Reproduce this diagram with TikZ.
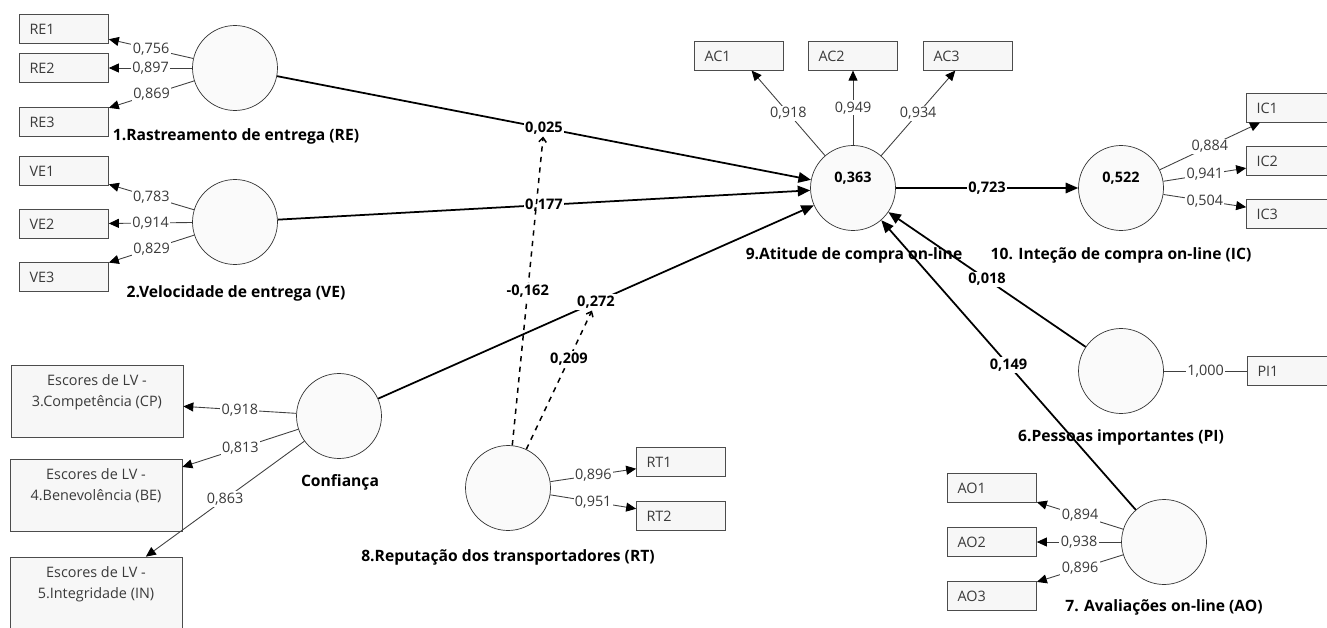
\documentclass[tikz,border=0pt]{standalone}
\usepackage{fontspec}
\setmainfont{Open Sans}
\usepackage{xcolor}
\usepackage{tikz}
\usetikzlibrary{arrows.meta}
\definecolor{plsgray}{HTML}{3A3A3A}
\definecolor{plsbox}{HTML}{F7F7F7}
\definecolor{plscirc}{HTML}{FAFAFA}

\begin{document}
\begin{tikzpicture}[x=0.02cm, y=-0.02cm,
  lv/.style={circle, draw=black!80, fill=plscirc, minimum size=1.7cm, inner sep=0pt},
  ind/.style={rectangle, draw=black!70, fill=plsbox, minimum height=0.57cm, text width=1.38cm, inner xsep=0.2cm, align=left, text=plsgray, font=\fontsize{8.2}{9.8}\selectfont},
  score/.style={rectangle, draw=black!70, fill=plsbox, minimum width=3.44cm, minimum height=1.44cm, align=center, text=plsgray, font=\fontsize{8.2}{11.9}\selectfont},
  lvname/.style={font=\bfseries\fontsize{8.9}{10.6}\selectfont},
  rsq/.style={font=\bfseries\fontsize{8.2}{9.8}\selectfont},
  loading/.style={draw=black!75, line width=0.5pt, -{Triangle[length=0.2cm, width=0.18cm, color=black]}},
  lw/.style={fill=white, inner sep=0.8pt, text=plsgray, font=\fontsize{8.2}{9.8}\selectfont},
  effect/.style={line width=1pt, -{Triangle[length=0.25cm, width=0.21cm]}},
  pw/.style={fill=white, inner sep=0.8pt, font=\bfseries\fontsize{8.3}{9.8}\selectfont},
  moder/.style={dashed, line width=0.85pt, -{Straight Barb[length=0.09cm, width=0.15cm]}}]
  \clip (0,0) rectangle (1327,628);

  \node[lv] (RE) at (235,68) {};
  \node[ind] (RE1) at (64,29) {RE1};
  \node[ind] (RE2) at (64,68) {RE2};
  \node[ind] (RE3) at (64,122) {RE3};
  \node[lvname] (REname) at (236,136) {1.Rastreamento de entrega (RE)};

  \node[lv] (VE) at (235,222) {};
  \node[ind] (VE1) at (64,171) {VE1};
  \node[ind] (VE2) at (64,224) {VE2};
  \node[ind] (VE3) at (64,277) {VE3};
  \node[lvname] (VEname) at (236,293) {2.Velocidade de entrega (VE)};

  \node[lv] (CF) at (339,416) {};
  \node[score] (CP) at (97,401) {Escores de LV -\\3.Competência (CP)\\\mbox{}};
  \node[score] (BE) at (96,495) {Escores de LV -\\4.Benevolência (BE)\\\mbox{}};
  \node[score] (IN) at (96,593) {Escores de LV -\\5.Integridade (IN)\\\mbox{}};
  \node[lvname] (CFname) at (340,482) {Confiança};

  \node[lv] (RT) at (508,488) {};
  \node[ind] (RT1) at (681,462) {RT1};
  \node[ind] (RT2) at (681,516) {RT2};
  \node[lvname] (RTname) at (508,557) {8.Reputação dos transportadores (RT)};

  \node[lv] (AC) at (853,188) {};
  \node[rsq] (ACr2) at (853,178) {0,363};
  \node[ind] (AC1) at (739,56) {AC1};
  \node[ind] (AC2) at (853,56) {AC2};
  \node[ind] (AC3) at (968,56) {AC3};
  \node[lvname] (ACname) at (854,255) {9.Atitude de compra on-line};

  \node[lv] (IC) at (1121,188) {};
  \node[rsq] (ICr2) at (1121,178) {0,522};
  \node[ind] (IC1) at (1291,108) {IC1};
  \node[ind] (IC2) at (1291,161) {IC2};
  \node[ind] (IC3) at (1291,214) {IC3};
  \node[lvname] (ICname) at (1121,255) {10. Inteção de compra on-line (IC)};

  \node[lv] (PI) at (1121,371) {};
  \node[ind] (PI1) at (1292,371) {PI1};
  \node[lvname] (PIname) at (1121,437) {6.Pessoas importantes (PI)};

  \node[lv] (AO) at (1164,542) {};
  \node[ind] (AO1) at (992,488) {AO1};
  \node[ind] (AO2) at (992,542) {AO2};
  \node[ind] (AO3) at (992,596) {AO3};
  \node[lvname] (AOname) at (1164,607) {7. Avaliações on-line (AO)};

  \draw[loading] (RE) -- node[lw] {0,756} (RE1);
  \draw[loading] (RE) -- node[lw] {0,897} (RE2);
  \draw[loading] (RE) -- node[lw] {0,869} (RE3);
  \draw[loading] (VE) -- node[lw] {0,783} (VE1);
  \draw[loading] (VE) -- node[lw] {0,914} (VE2);
  \draw[loading] (VE) -- node[lw] {0,829} (VE3);
  \draw[loading] (CF) -- node[lw] {0,918} (CP);
  \draw[loading] (CF) -- node[lw] {0,813} (BE);
  \draw[loading] (CF) -- node[lw] {0,863} (IN);
  \draw[loading] (RT) -- node[lw] {0,896} (RT1);
  \draw[loading] (RT) -- node[lw] {0,951} (RT2);
  \draw[loading] (AC) -- node[lw] {0,918} (AC1);
  \draw[loading] (AC) -- node[lw] {0,949} (AC2);
  \draw[loading] (AC) -- node[lw] {0,934} (AC3);
  \draw[loading] (IC) -- node[lw] {0,884} (IC1);
  \draw[loading] (IC) -- node[lw] {0,941} (IC2);
  \draw[loading] (IC) -- node[lw] {0,504} (IC3);
  \draw[draw=black!75, line width=0.5pt] (PI) -- node[lw] {1,000} (PI1);
  \draw[loading] (AO) -- node[lw] {0,894} (AO1);
  \draw[loading] (AO) -- node[lw] {0,938} (AO2);
  \draw[loading] (AO) -- node[lw] {0,896} (AO3);

  \draw[effect] (RE) -- node[pw] (mRE) {0,025} (AC);
  \draw[effect] (VE) -- node[pw] (mVE) {0,177} (AC);
  \draw[effect] (CF) -- node[pw] (mCF) {0,272} (AC);
  \draw[effect] (PI) -- node[pw] (mPI) {0,018} (AC);
  \draw[effect] (AO) -- node[pw] (mAO) {0,149} (AC);
  \draw[effect] (AC) -- node[pw] (mAC) {0,723} (IC);
  \draw[moder] (RT) -- node[pw] (mRTa) {-0,162} (mRE);
  \draw[moder] (RT) -- node[pw, pos=0.65] (mRTb) {0,209} (mCF);
\end{tikzpicture}
\end{document}
